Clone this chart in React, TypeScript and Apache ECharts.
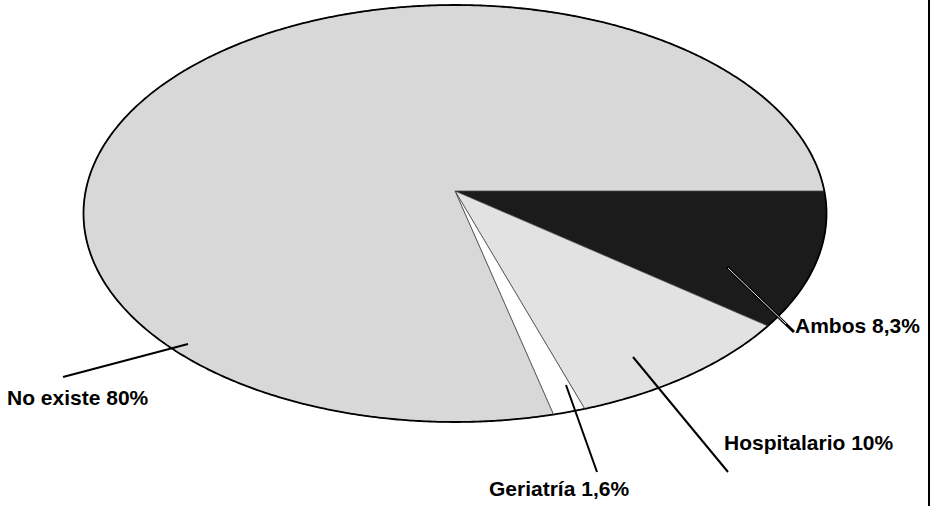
import React, { useEffect, useRef } from "react";
import * as echarts from "echarts";

// ---- data ----
const CATEGORIES = ["Ambos", "Hospitalario", "Geriatría", "No existe"];
const VALUES = [8.3, 10, 1.6, 80];

// ---- styles / layout (not data) ----
const FILLS = ["#1b1b1b", "#e2e2e2", "#ffffff", "#d8d8d8"];
const APEX_X = 455;
const APEX_Y = 191;
const ELL_CX = 455;
const ELL_CY = 213.5;
const ELL_RX = 371.5;
const ELL_RY = 208.5;
const TILT = 0.75; // vertical squash of the slice angles
// label anchor layout: leader line [inner, outer] and text left/middle position
const LABEL_LAYOUT = [
  { line: [[727, 267], [794, 332]], text: [795, 325], inner: [786, 324] },
  { line: [[633, 357], [728, 472]], text: [724, 442] },
  { line: [[566, 385], [597, 472]], text: [489, 488] },
  { line: [[188, 344], [63, 377]], text: [7, 397] },
];

// point where the ray from the apex, at pie angle deg, meets the ellipse rim
function rim(deg: number): number[] {
  const t = (deg * Math.PI) / 180;
  let dx = Math.cos(t);
  let dy = TILT * Math.sin(t);
  const n = Math.hypot(dx, dy);
  dx /= n;
  dy /= n;
  const ox = (APEX_X - ELL_CX) / ELL_RX;
  const oy = (APEX_Y - ELL_CY) / ELL_RY;
  const ux = dx / ELL_RX;
  const uy = dy / ELL_RY;
  const a = ux * ux + uy * uy;
  const b = 2 * (ox * ux + oy * uy);
  const c = ox * ox + oy * oy - 1;
  const s = (-b + Math.sqrt(b * b - 4 * a * c)) / (2 * a);
  return [APEX_X + dx * s, APEX_Y + dy * s];
}

function fmt(v: number): string {
  return String(v).replace(".", ",") + "%";
}

export default function App() {
  const ref = useRef<HTMLDivElement>(null);

  useEffect(() => {
    if (!ref.current) return;
    const chart = echarts.init(ref.current, undefined, { renderer: "svg" });
    const total = VALUES.reduce((a, b) => a + b, 0);
    const starts: number[] = [];
    let acc = 0;
    VALUES.forEach((v) => {
      starts.push(acc);
      acc += v;
    });

    const data = VALUES.map((v, i) => ({ name: CATEGORIES[i], value: v }));

    const sliceRender = (params: any, api: any) => {
      const i = params.dataIndex;
      const v = api.value(0);
      const a0 = (starts[i] / total) * 360;
      const a1 = a0 + (v / total) * 360;
      const arc: number[][] = [];
      const steps = Math.max(2, Math.ceil((a1 - a0) / 0.5));
      for (let k = 0; k <= steps; k++) {
        arc.push(rim(a0 + ((a1 - a0) * k) / steps));
      }
      const poly = [[APEX_X, APEX_Y], ...arc];
      return {
        type: "group",
        children: [
          {
            type: "polygon",
            shape: { points: poly },
            style: { fill: FILLS[i], stroke: "#3a3a3a", lineWidth: 0.7 },
          },
          {
            type: "polyline",
            shape: { points: arc },
            style: { fill: "none", stroke: "#000", lineWidth: 1.8 },
          },
        ],
      };
    };

    const labelRender = (params: any, api: any) => {
      const i = params.dataIndex;
      const v = api.value(0);
      const L = LABEL_LAYOUT[i];
      const children: any[] = [
        {
          type: "line",
          shape: { x1: L.line[0][0], y1: L.line[0][1], x2: L.line[1][0], y2: L.line[1][1] },
          style: { stroke: "#000", lineWidth: L.inner ? 3 : 2 },
        },
      ];
      if (L.inner) {
        children.push({
          type: "line",
          shape: { x1: L.line[0][0] + 1, y1: L.line[0][1] + 1, x2: L.inner[0], y2: L.inner[1] },
          style: { stroke: "#e8e8e8", lineWidth: 1 },
        });
      }
      children.push({
        type: "text",
        x: L.text[0],
        y: L.text[1],
        style: {
          text: CATEGORIES[i] + " " + fmt(v),
          fill: "#000",
          font: "bold 21px 'Liberation Sans', Arial, sans-serif",
          align: "left",
          verticalAlign: "middle",
        },
      });
      return { type: "group", children };
    };

    chart.setOption({
      animation: false,
      backgroundColor: "#ffffff",
      series: [
        {
          type: "custom",
          coordinateSystem: "none",
          renderItem: sliceRender,
          data,
          silent: true,
        },
        {
          type: "custom",
          coordinateSystem: "none",
          renderItem: labelRender,
          data,
          silent: true,
          z: 5,
        },
      ],
      graphic: [
        {
          type: "line",
          shape: { x1: 929, y1: 0, x2: 929, y2: 506 },
          style: { stroke: "#000", lineWidth: 2 },
          z: 10,
        },
      ],
    });
    return () => chart.dispose();
  }, []);

  return (
    <div
      ref={ref}
      style={{ position: "fixed", left: 0, top: 0, width: 931, height: 506 }}
    />
  );
}
